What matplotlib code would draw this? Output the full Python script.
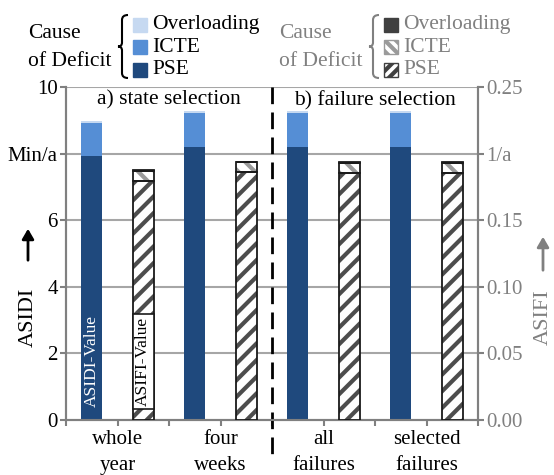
import numpy as np
import matplotlib
matplotlib.use("Agg")
import matplotlib.pyplot as plt
from matplotlib.patches import Rectangle, PathPatch, FancyArrowPatch
from matplotlib.path import Path

plt.rcParams['font.family'] = ['Liberation Serif', 'DejaVu Serif']
plt.rcParams['hatch.linewidth'] = 3.0

# data
groups = ["whole\nyear", "four\nweeks", "all\nfailures", "selected\nfailures"]
causes = ["Overloading", "ICTE", "PSE"]
asidi_pse = [7.93, 8.20, 8.20, 8.20]
asidi_icte = [1.00, 1.02, 1.02, 1.02]
asidi_over = [0.04, 0.07, 0.07, 0.07]
asifi_pse = [0.1796, 0.1864, 0.1857, 0.1857]
asifi_icte = [0.0075, 0.0072, 0.0075, 0.0075]
asifi_over = [0.0004, 0.0004, 0.0004, 0.0004]
left_ticks = ["0", "2", "4", "6", "Min/a", "10"]
right_ticks = ["0.00", "0.05", "0.10", "0.15", "1/a", "0.25"]

blue_cols = {"PSE": "#1f497d", "ICTE": "#558ed5", "Overloading": "#c6d9f1"}
grey = "#808080"
grid_grey = "#a6a6a6"

fig = plt.figure(figsize=(5.54, 4.75), dpi=100)
ax1 = fig.add_axes([66/554, 1-420/475, 412/554, 333/475])
ax2 = ax1.twinx()

x_di = np.arange(len(groups)) * 2
x_fi = x_di + 1
w = 0.41

# ASIDI bars (left axis)
bot = np.zeros(len(groups))
for name, vals in [("PSE", asidi_pse), ("ICTE", asidi_icte), ("Overloading", asidi_over)]:
    ax1.bar(x_di, vals, w, bottom=bot, color=blue_cols[name], zorder=3)
    bot += np.array(vals)

# ASIFI bars (right axis), hatched
bot = np.zeros(len(groups))
styles = [("PSE", asifi_pse, "white", "//", "#4d4d4d"),
          ("ICTE", asifi_icte, "white", "\\\\", "#9a9a9a"),
          ("Overloading", asifi_over, "#404040", "", "#404040")]
for name, vals, fc, hatch, hc in styles:
    ax2.bar(x_fi, vals, w, bottom=bot, color=fc, hatch=hatch, edgecolor=hc,
            linewidth=0, zorder=3)
    ax2.bar(x_fi, vals, w, bottom=bot, fill=False, edgecolor="#1a1a1a",
            linewidth=1.3, zorder=4)
    bot += np.array(vals)

# axes formatting
ax1.set_xlim(-0.5, 7.5)
ax1.set_ylim(0, 10)
ax2.set_ylim(0, 0.25)
ax1.set_yticks(np.arange(0, 11, 2))
ax1.set_yticklabels(left_ticks, fontsize=15)
ax2.set_yticks(np.arange(0, 0.26, 0.05))
ax2.set_yticklabels(right_ticks, fontsize=15, color=grey)
ax1.set_xticks(np.arange(-0.5, 8, 1))
ax1.set_xticklabels([])
for y in np.arange(2, 11, 2):
    ax1.axhline(y, color=grid_grey, lw=1.5, zorder=1)
for ax in (ax1, ax2):
    for s in ax.spines.values():
        s.set_color(grey)
        s.set_linewidth(1.5)
    ax.tick_params(color=grey, width=1.5, length=4, pad=2)
ax1.spines['top'].set_visible(False)
ax2.spines['top'].set_visible(False)

# category labels
for i, g in enumerate(groups):
    ax1.text(x_di[i] + 0.5, -0.3, g, ha="center", va="top", fontsize=15,
             linespacing=1.5)

# separator
ax1.plot([3.5, 3.5], [10, -1.15], color="black", lw=2, ls=(0, (6, 3)),
         clip_on=False, zorder=5)

ax1.text(1.5, 9.6, "a) state selection", ha="center", va="center", fontsize=15.5)
ax1.text(5.5, 9.6, "b) failure selection", ha="center", va="center", fontsize=15.5)

# value tags
ax1.text(x_di[0], 1.77, "ASIDI-Value", rotation=90, ha="center", va="center",
         color="white", fontsize=12.5, zorder=6)
ax2.text(x_fi[0], 0.044, "ASIFI-Value", rotation=90, ha="center", va="center",
         color="black", fontsize=12.5, zorder=6,
         bbox=dict(boxstyle="square,pad=0.15", fc="white", ec="#1a1a1a", lw=1.2))

# axis labels with arrows
fig.text(28/554, 1-317/475, "ASIDI", rotation=90, ha="center", va="center", fontsize=16)
fig.text(543/554, 1-317/475, "ASIFI", rotation=90, ha="center", va="center",
         fontsize=16, color=grey)
fig.add_artist(FancyArrowPatch(
    (28/554, 1-263/475), (28/554, 1-226/475), transform=fig.transFigure,
    arrowstyle="-|>,head_length=6,head_width=3.5", lw=2, color="black"))
fig.add_artist(FancyArrowPatch(
    (543/554, 1-273/475), (543/554, 1-234/475), transform=fig.transFigure,
    arrowstyle="-|>,head_length=6,head_width=3.5", lw=2, color=grey))


def brace(xl, top, bot, col):
    # curly brace in figure pixels (y measured from top)
    xm, xr = xl + 4, xl + 10
    mid = (top + bot) / 2
    pts = [(xr, top), (xm, top), (xm, top + 5), (xm, mid - 4), (xm, mid), (xl, mid),
           (xm, mid), (xm, mid + 4), (xm, bot - 5), (xm, bot), (xr, bot)]
    codes = [Path.MOVETO, Path.CURVE3, Path.CURVE3, Path.LINETO, Path.CURVE3, Path.CURVE3,
             Path.CURVE3, Path.CURVE3, Path.LINETO, Path.CURVE3, Path.CURVE3]
    pts = [(px/554, 1-py/475) for px, py in pts]
    fig.add_artist(PathPatch(Path(pts, codes), fill=False, ec=col, lw=1.5,
                             transform=fig.transFigure))


# legends
def legend_block(x0, tcol, patches):
    fig.text(x0/554, 1-33/475, "Cause", fontsize=15.5, color=tcol, va="center")
    fig.text(x0/554, 1-62/475, "of Deficit", fontsize=15.5, color=tcol, va="center")
    brace(x0 + 90, 15, 78, tcol)
    for (name, fc, hatch, hc), yc in zip(patches, [25, 47, 70]):
        px = x0 + 105
        r = Rectangle((px/554, 1-(yc+7)/475), 14/554, 14/475, transform=fig.transFigure,
                      facecolor=fc, hatch=hatch, edgecolor=hc, lw=1.0)
        fig.add_artist(r)
        fig.text((px+19)/554, 1-yc/475, name, fontsize=15.5, color=tcol, va="center")


legend_block(28, "black", [("Overloading", blue_cols["Overloading"], "", blue_cols["Overloading"]),
                           ("ICTE", blue_cols["ICTE"], "", blue_cols["ICTE"]),
                           ("PSE", blue_cols["PSE"], "", blue_cols["PSE"])])
legend_block(279, grey, [("Overloading", "#404040", "", "#404040"),
                         ("ICTE", "white", "\\\\\\", "#9a9a9a"),
                         ("PSE", "white", "///", "#404040")])

fig.savefig("out.png", dpi=100)
